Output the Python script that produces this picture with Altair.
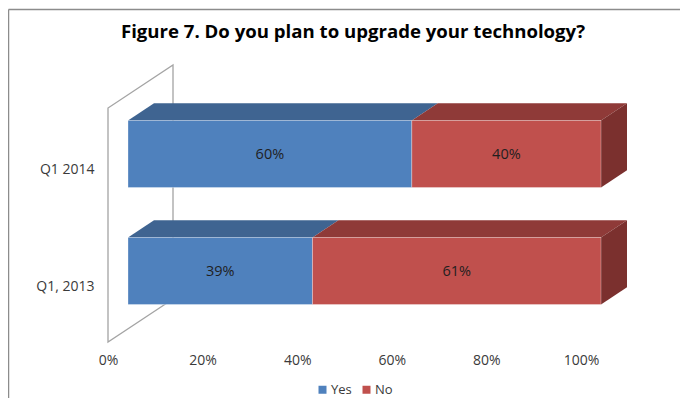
import altair as alt
import pandas as pd

# ---- values ----
categories = ["Q1, 2013", "Q1 2014"]
yes_values = [39, 60]
no_values = [61, 40]
series = ["Yes", "No"]
tick_values = [0, 20, 40, 60, 80, 100]
title = "Figure 7. Do you plan to upgrade your technology?"

# ---- layout ----
PX_PER_PCT = 4.73
PX_PER_ROW = 117.0
PLOT_LEFT, PLOT_TOP, PLOT_BOTTOM = 108, 55, 342
X_MAX = 115
PLOT_W = PX_PER_PCT * X_MAX
PLOT_H = PLOT_BOTTOM - PLOT_TOP
ROW0_Y = 271  # pixel y of the first bar's front centre

def px_x(p):
    return p / PX_PER_PCT

def px_y(p):
    return p / PX_PER_ROW

y_min = (ROW0_Y - PLOT_BOTTOM) / PX_PER_ROW
y_max = (ROW0_Y - PLOT_TOP) / PX_PER_ROW

BAR_X0 = px_x(20)          # front of the bars, from the wall's front edge
DEPTH_X = px_x(26)
DEPTH_Y = px_y(17.3)
HALF_H = px_y(33.5)
LABEL_SHIFT = px_y(15)

COLORS = {
    "Yes": "#4f81bd", "No": "#c0504d",
    "Yes top": "#3f6491", "No top": "#8f3a38",
    "No side": "#7b302e",
}

fronts, faces = [], []
for r, (cat, y_v, n_v) in enumerate(zip(categories, yes_values, no_values)):
    cuts = [("Yes", 0, y_v), ("No", y_v, y_v + n_v)]
    top, bottom = r + HALF_H, r - HALF_H
    for name, a, b in cuts:
        x0, x1 = BAR_X0 + a, BAR_X0 + b
        fronts.append(dict(series=name, x=x0, x2=x1, y=top, y2=bottom,
                           mid=(x0 + x1) / 2, row=r - px_y(1), label=f"{b - a}%"))
        fid = f"{name}{r}top"
        back = top + DEPTH_Y
        for px, lo, hi in [(x0, top, top), (x0 + DEPTH_X, top, back),
                           (x1, top, back), (x1 + DEPTH_X, back, back)]:
            faces.append(dict(face=fid, series=name + " top", x=px, y=lo, y2=hi))
    x1 = BAR_X0 + y_v + n_v
    fid = f"side{r}"
    faces.append(dict(face=fid, series="No side", x=x1, y=bottom, y2=top))
    faces.append(dict(face=fid, series="No side", x=x1 + DEPTH_X,
                      y=bottom + DEPTH_Y, y2=top + DEPTH_Y))

wall_dx, wall_dy = px_x(65), px_y(43)
wall = pd.DataFrame([
    dict(o=0, x=wall_dx, y=y_min + wall_dy),
    dict(o=1, x=0, y=y_min),
    dict(o=2, x=0, y=y_min + px_y(234)),
    dict(o=3, x=wall_dx, y=y_min + px_y(234) + wall_dy),
    dict(o=4, x=wall_dx, y=y_min + wall_dy),
])

x_scale = alt.Scale(domain=[0, X_MAX], nice=False, zero=False)
y_scale = alt.Scale(domain=[y_min, y_max], nice=False, zero=False)
color_scale = alt.Scale(domain=list(COLORS), range=list(COLORS.values()))

x_axis = alt.Axis(values=tick_values, title=None, domain=False, ticks=False, grid=False,
                  labelExpr="datum.value + '%'", labelPadding=11, labelFontSize=14,
                  labelFont="Open Sans", labelColor="#3a3a3a", labelFlush=False)
label_expr = f"datum.value > 0.5 ? '{categories[1]}' : '{categories[0]}'"
y_axis = alt.Axis(values=[i - LABEL_SHIFT for i in range(len(categories))], title=None,
                  domain=False, ticks=False, grid=False, labelExpr=label_expr,
                  labelPadding=14, labelFontSize=14, labelFont="Open Sans",
                  labelColor="#3a3a3a")
legend = alt.Legend(
    values=series, title=None, orient="none", direction="horizontal",
    legendX=316 - PLOT_LEFT, legendY=383 - PLOT_TOP,
    symbolType="square", symbolSize=64, symbolStrokeWidth=0,
    labelFont="Open Sans", labelFontSize=13, labelColor="#3a3a3a",
    columnPadding=8, labelOffset=2, padding=0,
)

wall_layer = alt.Chart(wall).mark_line(color="#a4a4a4", strokeWidth=1.3).encode(
    x=alt.X("x:Q", scale=x_scale, axis=x_axis),
    y=alt.Y("y:Q", scale=y_scale, axis=y_axis),
    order="o:Q",
)

face_layer = alt.Chart(pd.DataFrame(faces)).mark_area(opacity=1).encode(
    x=alt.X("x:Q", scale=x_scale),
    y=alt.Y("y:Q", scale=y_scale, stack=None),
    y2="y2:Q",
    detail="face:N",
    color=alt.Color("series:N", scale=color_scale, legend=legend),
)

df_front = pd.DataFrame(fronts)
front_layer = alt.Chart(df_front).mark_rect(
    stroke="#ffffff", strokeOpacity=0.3, strokeWidth=1
).encode(
    x=alt.X("x:Q", scale=x_scale),
    x2="x2:Q",
    y=alt.Y("y:Q", scale=y_scale),
    y2="y2:Q",
    color=alt.Color("series:N", scale=color_scale, legend=legend),
)

text_layer = alt.Chart(df_front).mark_text(
    font="Open Sans", fontSize=14.5, color="#1f1f1f"
).encode(
    x=alt.X("mid:Q", scale=x_scale),
    y=alt.Y("row:Q", scale=y_scale),
    text="label:N",
)

one = pd.DataFrame({"a": [0]})
frame_top = alt.Chart(one).mark_rule(color="#8c8c8c", strokeWidth=1.5).encode(
    x=alt.value(8.5 - PLOT_LEFT), x2=alt.value(680 - PLOT_LEFT), y=alt.value(9.5 - PLOT_TOP)
)
frame_left = alt.Chart(one).mark_rule(color="#8c8c8c", strokeWidth=1.5).encode(
    x=alt.value(8.5 - PLOT_LEFT), y=alt.value(9.5 - PLOT_TOP), y2=alt.value(398 - PLOT_TOP)
)
title_layer = alt.Chart(pd.DataFrame({"t": [title]})).mark_text(
    font="Open Sans", fontSize=18.6, fontWeight="bold", color="#000000", align="center"
).encode(
    x=alt.value(353 - PLOT_LEFT), y=alt.value(32 - PLOT_TOP), text="t:N"
)

chart = alt.layer(
    frame_top, frame_left, title_layer, wall_layer, face_layer, front_layer, text_layer,
).properties(
    width=PLOT_W,
    height=PLOT_H,
    autosize=alt.AutoSizeParams(type="none"),
    padding={"left": PLOT_LEFT - 8, "top": PLOT_TOP - 8, "right": 680 - PLOT_LEFT - PLOT_W,
             "bottom": 398 - PLOT_BOTTOM},
).configure_view(stroke=None)

chart.save("out.html", embed_options={"renderer": "svg", "actions": False})
